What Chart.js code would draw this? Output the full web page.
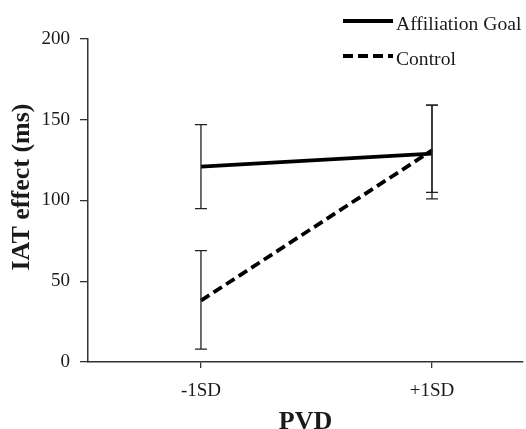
<!DOCTYPE html>
<html>
<head>
<meta charset="utf-8">
<script src="https://cdn.jsdelivr.net/npm/chart.js@4/dist/chart.umd.min.js"></script>
<style>
  html, body { margin: 0; padding: 0; background: #fff; }
  canvas { display: block; }
</style>
</head>
<body>
<canvas id="iatChart" width="526" height="429"></canvas>
<script>
// PVD levels on the x axis
const pvdLabels = ['-1SD', '+1SD'];

// Affiliation goal condition
const affiliationMeans = [121, 129];
const affiliationLow = [95, 101];
const affiliationHigh = [147, 159];

// Control condition
const controlMeans = [38, 131];
const controlLow = [8, 105];
const controlHigh = [69, 159];

const yTicks = [0, 50, 100, 150, 200];

const serif = "'Liberation Serif', 'Times New Roman', serif";
const ink = '#1a1a1a';

function toPoints(values) {
    return values.map((v, i) => ({ x: i, y: v }));
}

// vertical error bars with caps
const errorBars = {
    id: 'errorBars',
    afterDatasetsDraw(chart) {
        const ctx = chart.ctx;
        const xs = chart.scales.x;
        const ys = chart.scales.y;
        ctx.save();
        ctx.strokeStyle = '#222';
        ctx.lineWidth = 1.3;
        chart.data.datasets.forEach(ds => {
            ds.data.forEach((p, i) => {
                const x = xs.getPixelForValue(p.x);
                const top = ys.getPixelForValue(ds.high[i]);
                const bot = ys.getPixelForValue(ds.low[i]);
                ctx.beginPath();
                ctx.moveTo(x, top); ctx.lineTo(x, bot);
                ctx.moveTo(x - 6, top); ctx.lineTo(x + 6, top);
                ctx.moveTo(x - 6, bot); ctx.lineTo(x + 6, bot);
                ctx.stroke();
            });
        });
        ctx.restore();
    }
};

// legend stacked in the top right corner + y axis title (sits a bit above centre)
const extras = {
    id: 'extras',
    afterDraw(chart) {
        const ctx = chart.ctx;
        ctx.save();
        ctx.font = '19.6px ' + serif;
        ctx.fillStyle = ink;
        ctx.textBaseline = 'middle';
        chart.data.datasets.forEach((ds, i) => {
            const y = 21 + i * 35;
            ctx.beginPath();
            ctx.strokeStyle = '#000';
            ctx.lineWidth = 4;
            ctx.setLineDash(ds.borderDash || []);
            ctx.moveTo(343, y);
            ctx.lineTo(393, y);
            ctx.stroke();
            ctx.setLineDash([]);
            ctx.fillText(ds.label, 396, y + 4);
        });

        ctx.translate(22, 187);
        ctx.rotate(-Math.PI / 2);
        ctx.textAlign = 'center';
        ctx.font = 'bold 26px ' + serif;
        ctx.fillText('IAT effect (ms)', 0, 0);
        ctx.restore();
    }
};

const ctx = document.getElementById('iatChart').getContext('2d');
new Chart(ctx, {
    type: 'line',
    data: {
        datasets: [
            {
                label: 'Affiliation Goal',
                data: toPoints(affiliationMeans),
                low: affiliationLow,
                high: affiliationHigh,
                borderColor: '#000',
                borderWidth: 3.8,
                pointRadius: 0,
                fill: false
            },
            {
                label: 'Control',
                data: toPoints(controlMeans),
                low: controlLow,
                high: controlHigh,
                borderColor: '#000',
                borderWidth: 3.8,
                borderDash: [10, 5],
                pointRadius: 0,
                fill: false
            }
        ]
    },
    plugins: [errorBars, extras],
    options: {
        responsive: false,
        animation: false,
        layout: { padding: { top: 39, right: 3, left: 0, bottom: 0 } },
        plugins: {
            legend: { display: false },
            tooltip: { enabled: false }
        },
        scales: {
            x: {
                type: 'linear',
                min: -0.489,
                max: 1.394,
                afterBuildTicks: scale => {
                    scale.ticks = pvdLabels.map((l, i) => ({ value: i }));
                },
                afterFit: scale => { scale.height = 67; },
                ticks: {
                    color: ink,
                    font: { family: serif, size: 19 },
                    padding: 12,
                    callback: value => pvdLabels[value]
                },
                grid: { drawOnChartArea: false, tickLength: 6, color: '#333', lineWidth: 1.3 },
                border: { color: '#333', width: 1.5 },
                title: {
                    display: true,
                    text: 'PVD',
                    color: ink,
                    font: { family: serif, size: 26, weight: 'bold', lineHeight: 0.55 },
                    padding: { top: 0, bottom: 0 }
                }
            },
            y: {
                min: 0,
                max: 200,
                afterBuildTicks: scale => {
                    scale.ticks = yTicks.map(v => ({ value: v }));
                },
                afterFit: scale => { scale.width = 88; },
                ticks: {
                    color: ink,
                    font: { family: serif, size: 19 },
                    padding: 10
                },
                grid: { drawOnChartArea: false, tickLength: 8, color: '#333', lineWidth: 1.3 },
                border: { color: '#333', width: 1.5 }
            }
        }
    }
});
</script>
</body>
</html>
